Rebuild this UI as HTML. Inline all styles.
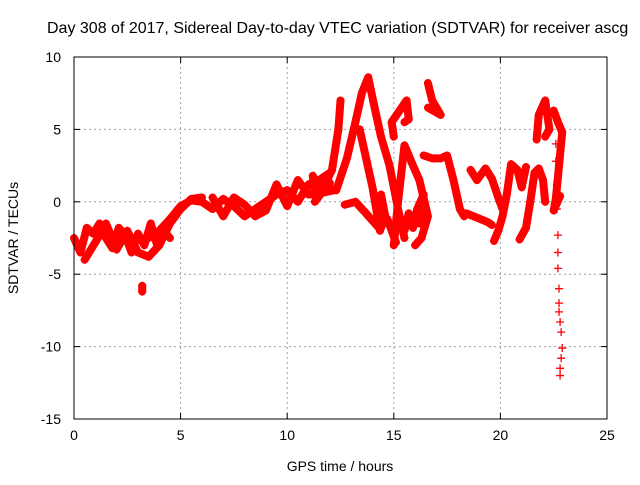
<!DOCTYPE html>
<html><head><meta charset="utf-8"><style>
body{margin:0;background:#fff}
svg text{font-family:"Liberation Sans",sans-serif;font-size:14px;fill:#000}
</style></head><body>
<svg id="c" width="640" height="480">
<rect width="640" height="480" fill="#fff"/>
<text x="47" y="33" style="font-size:16px">Day 308 of 2017, Sidereal Day-to-day VTEC variation (SDTVAR) for receiver ascg</text>
<g id="grid"></g><g id="marks"></g><g id="axes"></g>
<text x="340" y="471" text-anchor="middle">GPS time / hours</text>
<text transform="translate(18,238) rotate(-90)" text-anchor="middle">SDTVAR / TECUs</text>
</svg>
<script>
const xTicks=[0,5,10,15,20,25];
const yTicks=[10,5,0,-5,-10,-15];
const track1=[[0,-2.5],[0.3,-3.5],[0.6,-1.8],[0.9,-2.2],[1.2,-1.5],[1.5,-2.5],[1.8,-3.2],[2.1,-1.8],[2.4,-2.3],[2.7,-3.5],[3.0,-2.2],[3.3,-3.0],[3.6,-1.5],[3.9,-3.0],[4.2,-2.0],[4.5,-2.5]];
const track2=[[0.5,-4],[1,-2.8],[1.5,-1.5],[2,-3.3],[2.5,-2.0],[3,-3.5],[3.5,-3.8],[4,-3],[4.5,-1.5],[5,-0.5],[5.5,0.2],[6,0.3]];
const track3=[[3.5,-2.5],[4,-2],[4.5,-1.2],[5,-0.3],[5.5,0.1],[6,0],[6.5,-0.5],[7,0.2],[7.5,-0.3],[8,-1],[8.5,-0.5],[9,0],[9.5,0.5],[10,0.8],[10.5,0],[11,1.2],[11.5,1.5],[12,2]];
const track4=[[6.5,0.3],[7,-1],[7.5,0.3],[8,-0.2],[8.5,-1],[9,-0.6],[9.5,1.2],[10,-0.3],[10.5,1.5],[11,0.5],[11.5,0.5],[12,1.3]];
const track5=[[11.3,0],[11.8,1],[12.3,0.8],[12.8,3],[13.2,5.5],[13.5,7.5],[13.8,8.6],[14.1,6.5],[14.4,4.5],[14.8,2.5],[15.2,-0.5],[15.5,-2.5]];
const track6=[[12.5,7],[12.4,5],[12.1,2.2],[11.8,1.3],[11.3,0.5],[11.2,1.8],[11.6,0.6],[12.2,0.8]];
const track7=[[13.4,5],[13.7,3],[14.0,1],[14.35,-2],[14.6,-1],[14.4,0.5]];
const track8=[[12.7,-0.2],[13.2,0],[13.7,-0.8],[14.3,-1.8],[14.7,-1.2],[15.1,-2.8]];
const track9=[[15,-3],[15.2,0],[15.5,3.9],[15.9,2.5],[16.2,1.5],[16.6,-1.0],[16.3,-2.5],[16.0,-3]];
const track10=[[15.5,-2],[15.7,-0.8],[15.9,-1.8],[16.1,-0.5],[16.4,0.5],[16.2,-1.5]];
const track11=[[16.4,3.2],[16.8,3],[17.2,3],[17.5,3.2],[17.8,1.5],[18.1,-0.5],[18.3,-1]];
const track12=[[16.6,8.2],[16.8,7],[17.0,6.5],[17.2,6],[16.6,6.5]];
const track13=[[15.5,5.5],[15.7,5.7],[15.6,7.0],[14.9,5.5],[15.0,4.5]];
const track14=[[18.4,-0.8],[18.9,-1.1],[19.4,-1.4],[19.6,-1.6]];
const track15=[[18.6,2.2],[18.9,1.5],[19.3,2.3],[19.6,1.6],[19.9,0.3],[20.1,-0.5]];
const track16=[[19.7,-2.7],[19.9,-2],[20.1,-1],[20.3,0.5],[20.5,2.6],[20.8,2.2],[21.0,1.0],[21.2,2.4]];
const track17=[[20.9,-2.6],[21.2,-1.8],[21.4,0],[21.6,2],[21.8,2.3],[22.0,1.5],[22.1,0]];
const track18=[[21.7,4.3],[21.8,6],[22.1,7],[22.3,5],[22.1,4.5]];
const track19=[[22.5,6.3],[22.7,5.5],[22.9,4.8],[22.6,0.2],[22.5,-0.6],[22.8,0.4]];
const track20=[[22.6,4],[22.6,2.8],[22.65,1.2],[22.65,-0.5],[22.7,-2.3],[22.7,-3.5],[22.7,-4.6],[22.75,-6],[22.75,-7],[22.75,-7.6],[22.8,-8.3],[22.85,-9],[22.9,-10.1],[22.85,-10.8],[22.8,-11.5],[22.8,-12]];
const track21=[[3.2,-5.8],[3.2,-6.2]];
const series=[track1,track2,track3,track4,track5,track6,track7,track8,track9,track10,track11,track12,track13,track14,track15,track16,track17,track18,track19,track21];
const NS='http://www.w3.org/2000/svg';
const X0=74,X1=607,Y0=57,Y1=419;
const sx=v=>X0+(v-0)/25*(X1-X0);
const sy=v=>Y0+(10-v)/25*(Y1-Y0);
function mk(t,a,p){const e=document.createElementNS(NS,t);for(const k in a)e.setAttribute(k,a[k]);p.appendChild(e);return e;}
const grid=document.getElementById('grid'),axes=document.getElementById('axes'),marks=document.getElementById('marks');
xTicks.forEach(v=>{
 if(v>0&&v<25){const g=mk('line',{x1:sx(v),x2:sx(v),y1:Y0,y2:Y1,stroke:'#a0a0a0','stroke-dasharray':'2,3'},grid);
 
 }
 mk('line',{x1:sx(v),x2:sx(v),y1:Y1,y2:Y1-6,stroke:'#000'},axes);
 mk('line',{x1:sx(v),x2:sx(v),y1:Y0,y2:Y0+6,stroke:'#000'},axes);
 const t=mk('text',{x:sx(v),y:Y1+21,'text-anchor':'middle'},axes);t.textContent=v;
 
 
});
yTicks.forEach(v=>{
 if(v<10&&v>-15){const g=mk('line',{x1:X0,x2:X1,y1:sy(v),y2:sy(v),stroke:'#a0a0a0','stroke-dasharray':'2,3'},grid);
 
 }
 mk('line',{x1:X0,x2:X0+6,y1:sy(v),y2:sy(v),stroke:'#000'},axes);
 mk('line',{x1:X1,x2:X1-6,y1:sy(v),y2:sy(v),stroke:'#000'},axes);
 const t=mk('text',{x:X0-13,y:sy(v)+5,'text-anchor':'end'},axes);t.textContent=v;
 
 
});
const fr=mk('rect',{x:X0,y:Y0,width:X1-X0,height:Y1-Y0,fill:'none',stroke:'#000'},axes);


function plus(x,y){mk('path',{d:`M${x-4},${y}h8M${x},${y-4}v8`,stroke:'#f00','stroke-width':1.3},marks);}
series.forEach(s=>{
 const pl=mk('polyline',{points:s.map(p=>sx(p[0])+','+sy(p[1])).join(' '),fill:'none',stroke:'#f00','stroke-width':8,'stroke-linejoin':'round','stroke-linecap':'round'},marks);
 
 
 s.forEach(p=>plus(sx(p[0]),sy(p[1])));
});
track20.forEach(p=>plus(sx(p[0]),sy(p[1])));
</script>
</body></html>
